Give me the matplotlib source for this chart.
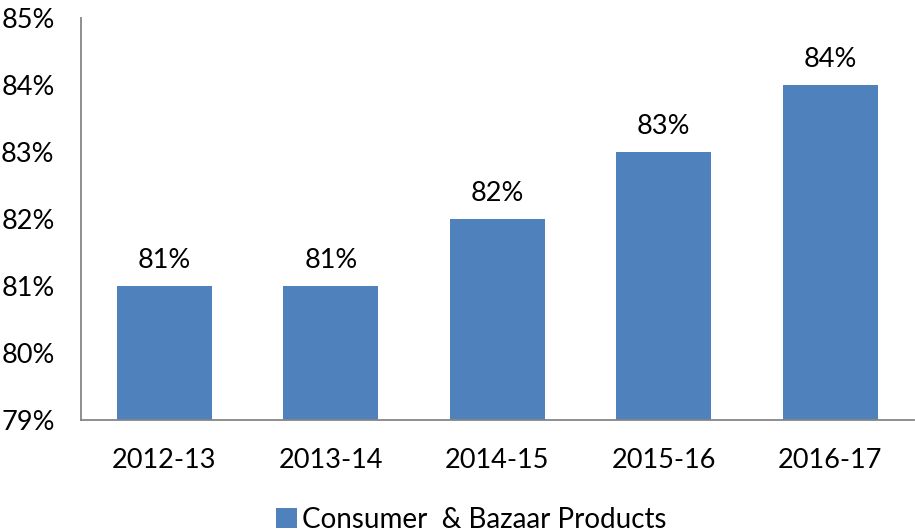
import matplotlib.pyplot as plt
import numpy as np

years = ['2012-13', '2013-14', '2014-15', '2015-16', '2016-17']
share = [81, 81, 82, 83, 84]
series_name = 'Consumer  & Bazaar Products'

plt.rcParams['font.family'] = ['Lato', 'DejaVu Sans']

fig = plt.figure(figsize=(9.15, 5.31), dpi=100)
ax = fig.add_axes([0.0885, 0.209, 0.91, 0.757])

x = np.arange(len(years))
bars = ax.bar(x, share, width=0.57, bottom=0, color='#4F81BD', label=series_name)

for xi, v in zip(x, share):
    ax.text(xi, v + 0.2, f'{v}%', ha='center', va='bottom', fontsize=19.5)

ax.set_xlim(-0.5, len(years) - 0.5)
ax.set_ylim(79, 85)
ax.set_yticks(range(79, 86))
ax.set_yticklabels([f'{t}%' for t in range(79, 86)])
ax.set_xticks(x)
ax.set_xticklabels(years)
ax.tick_params(axis='both', length=0, labelsize=19.5)
ax.tick_params(axis='x', pad=20)
ax.tick_params(axis='y', pad=19)

for s in ['top', 'right']:
    ax.spines[s].set_visible(False)
for s in ['left', 'bottom']:
    ax.spines[s].set_color('#868686')
    ax.spines[s].set_linewidth(1.3)

fig.legend(handles=[bars], labels=[series_name], loc='lower center',
           bbox_to_anchor=(0.515, -0.05), frameon=False, fontsize=20,
           handlelength=0.75, handleheight=0.75, handletextpad=0.2)

plt.savefig('out.png', dpi=100)
